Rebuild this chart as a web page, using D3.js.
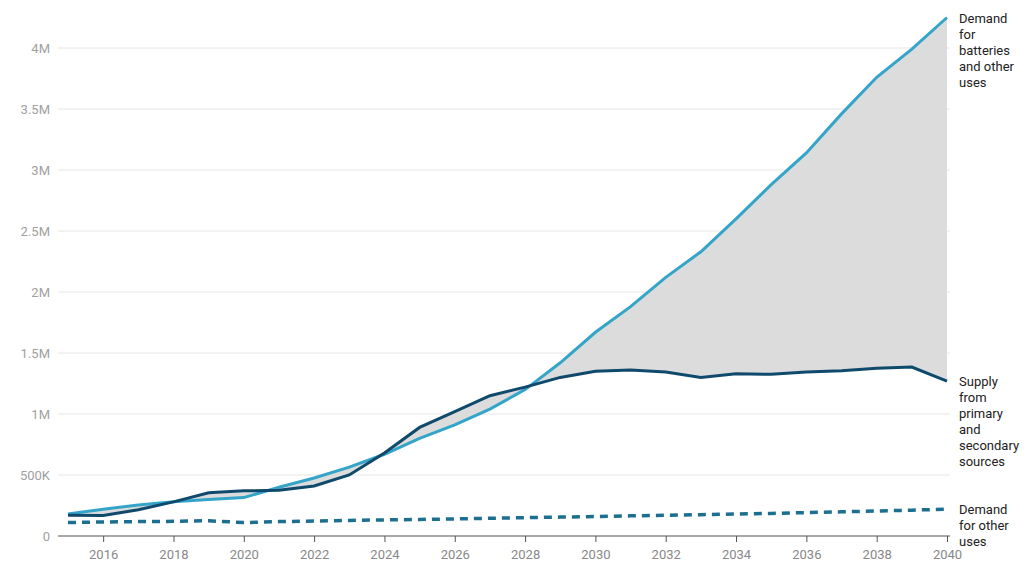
<!DOCTYPE html>
<html lang="en">
<head>
<meta charset="utf-8">
<title>Lithium demand and supply</title>
<script src="https://cdn.jsdelivr.net/npm/d3@7"></script>
<style>
  body { margin: 0; background: #fff; font-family: Roboto, sans-serif; }
</style>
</head>
<body>
<svg></svg>
<script>
const years = d3.range(2015, 2041)
const demand = [180e3, 220e3, 255e3, 280e3, 300e3, 315e3, 400e3, 475e3, 565e3, 670e3, 800e3, 910e3, 1040e3, 1200e3, 1420e3, 1670e3, 1880e3, 2120e3, 2330e3, 2600e3, 2880e3, 3140e3, 3460e3, 3760e3, 3990e3, 4250e3]
const supply = [170e3, 168e3, 215e3, 280e3, 355e3, 370e3, 375e3, 410e3, 500e3, 680e3, 890e3, 1020e3, 1150e3, 1220e3, 1300e3, 1350e3, 1360e3, 1345e3, 1300e3, 1330e3, 1325e3, 1345e3, 1355e3, 1375e3, 1385e3, 1270e3]
const other = [110e3, 115e3, 118e3, 120e3, 125e3, 110e3, 118e3, 122e3, 128e3, 132e3, 136e3, 140e3, 145e3, 150e3, 155e3, 160e3, 165e3, 170e3, 175e3, 180e3, 185e3, 192e3, 198e3, 205e3, 212e3, 220e3]
const yTicks = [0, 500e3, 1e6, 1.5e6, 2e6, 2.5e6, 3e6, 3.5e6, 4e6]
const tickLabels = ["0", "500K", "1M", "1.5M", "2M", "2.5M", "3M", "3.5M", "4M"]
const labels = [
  { lines: ["Demand", "for", "batteries", "and other", "uses"], value: demand[25] },
  { lines: ["Supply", "from", "primary", "and", "secondary", "sources"], value: supply[25] },
  { lines: ["Demand", "for other", "uses"], value: other[25] }
]

const width = 1024, height = 577
const x = d3.scaleLinear().domain([2015, 2040]).range([68, 947])
const y = d3.scaleLinear().domain([0, 4e6]).range([536, 48])

const svg = d3.select("svg").attr("width", width).attr("height", height)

svg.append("g").selectAll("line")
  .data(yTicks.slice(1))
  .join("line")
  .attr("x1", 58).attr("x2", 950)
  .attr("y1", d => y(d)).attr("y2", d => y(d))
  .attr("stroke", "#e6e6e6")

svg.append("g").selectAll("text")
  .data(yTicks)
  .join("text")
  .attr("x", 50).attr("y", d => y(d)).attr("dy", "0.35em")
  .attr("text-anchor", "end").attr("font-size", 13).attr("fill", "#a0a0a0")
  .text((d, i) => tickLabels[i])

const area = d3.area()
  .x((d, i) => x(years[i]))
  .y0((d, i) => y(supply[i]))
  .y1(d => y(d))
svg.append("path").datum(demand).attr("d", area).attr("fill", "#dcdcdc")

const xAxis = svg.append("g")
  .attr("transform", `translate(0,${y(0)})`)
  .call(d3.axisBottom(x).tickValues(d3.range(2016, 2041, 2)).tickFormat(d3.format("d")).tickSize(6).tickSizeOuter(0))
xAxis.select(".domain").attr("d", "M58,0H950").attr("stroke", "#555")
xAxis.selectAll(".tick line").attr("stroke", "#555")
xAxis.selectAll(".tick text").attr("font-size", 13).attr("fill", "#888").attr("font-family", "Roboto, sans-serif").attr("dy", "1.1em")

const line = d3.line().x((d, i) => x(years[i])).y(d => y(d))
svg.append("path").datum(other).attr("d", line).attr("fill", "none")
  .attr("stroke", "#1c6f8f").attr("stroke-width", 3.5).attr("stroke-dasharray", "8,6")
svg.append("path").datum(demand).attr("d", line).attr("fill", "none")
  .attr("stroke", "#34a5c9").attr("stroke-width", 3)
svg.append("path").datum(supply).attr("d", line).attr("fill", "none")
  .attr("stroke", "#0f4a6c").attr("stroke-width", 3)

labels.forEach(l => {
  const t = svg.append("text").attr("x", 959).attr("y", y(l.value) + 5)
    .attr("font-size", 13).attr("fill", "#222")
  t.selectAll("tspan").data(l.lines).join("tspan")
    .attr("x", 959).attr("dy", (d, i) => i === 0 ? 0 : 16).text(d => d)
})
</script>
</body>
</html>
